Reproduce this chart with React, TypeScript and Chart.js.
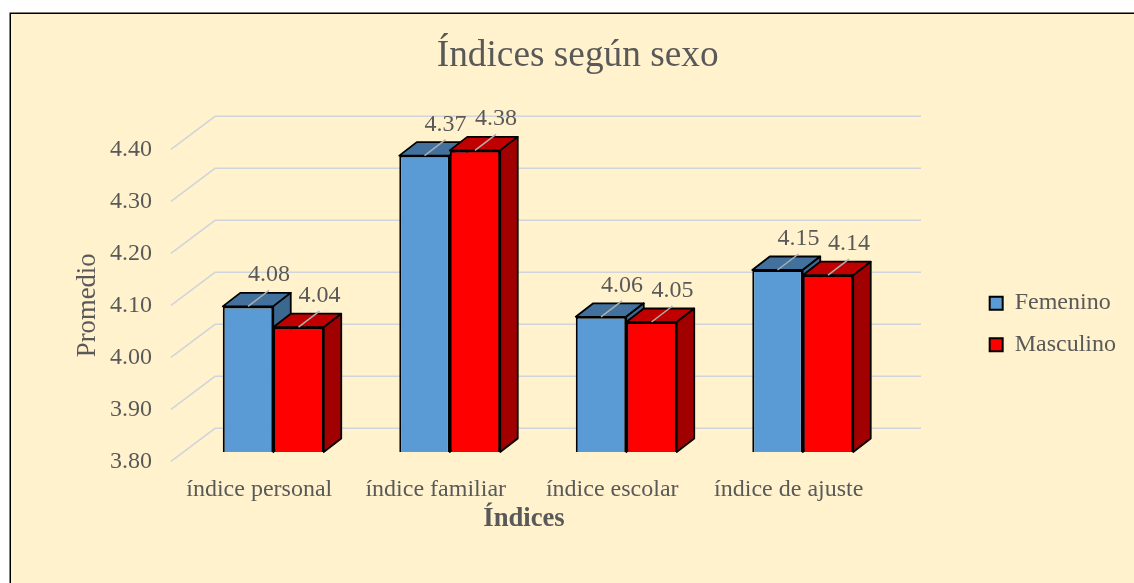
import React, { useEffect, useRef } from "react";
import { Chart, registerables } from "chart.js";

Chart.register(...registerables);

// ---- data ----
const categories = ["índice personal", "índice familiar", "índice escolar", "índice de ajuste"];
const seriesNames = ["Femenino", "Masculino"];
const femenino = [4.08, 4.37, 4.06, 4.15];
const masculino = [4.04, 4.38, 4.05, 4.14];
const yTickValues = [3.8, 3.9, 4.0, 4.1, 4.2, 4.3, 4.4];
const chartTitle = "Índices según sexo";
const xTitle = "Índices";
const yTitle = "Promedio";

// ---- styling / layout ----
const W = 1134;
const H = 648;
const FONT = "'Liberation Serif', 'Times New Roman', Times, serif";
const TEXT = "#595959";
const BG = "#FFF2CC";
const GRID = "#D0D5DD";
const PAD_L = 29.4;
const PAD_R = 8;
const Y_AXIS_W = 141.6;
const AREA_W = 706;
const X_AXIS_H = 186.7;
const WALL_DX = 44;
const WALL_DY = -33;
const SHIFT_DX = 14;
const SHIFT_DY = -9.3;
const DEPTH_DX = 17.5;
const DEPTH_DY = -13.5;
const LABEL_DX = 21;
const LABEL_BASE_DY = -25;
const LEADER_DY = -16;

const FRONT = ["#5B9BD5", "#FF0000"];
const TOPC = ["#41719C", "#C00000"];
const SIDEC = ["#3B6891", "#A00000"];

function drawFaces(ctx: CanvasRenderingContext2D, el: any, top: string, side: string) {
  const { x, y, base, width } = el;
  const l = x - width / 2;
  const r = x + width / 2;
  ctx.save();
  ctx.lineWidth = 1.8;
  ctx.strokeStyle = "#000";
  ctx.lineJoin = "round";
  ctx.beginPath();
  ctx.moveTo(l, y);
  ctx.lineTo(r, y);
  ctx.lineTo(r + DEPTH_DX, y + DEPTH_DY);
  ctx.lineTo(l + DEPTH_DX, y + DEPTH_DY);
  ctx.closePath();
  ctx.fillStyle = top;
  ctx.fill();
  ctx.stroke();
  ctx.beginPath();
  ctx.moveTo(r, y);
  ctx.lineTo(r + DEPTH_DX, y + DEPTH_DY);
  ctx.lineTo(r + DEPTH_DX, base + DEPTH_DY);
  ctx.lineTo(r, base);
  ctx.closePath();
  ctx.fillStyle = side;
  ctx.fill();
  ctx.stroke();
  ctx.restore();
}

const threeDPlugin = {
  id: "threeD",
  beforeDraw(chart: any) {
    const { ctx } = chart;
    ctx.save();
    ctx.fillStyle = "#FFFFFF";
    ctx.fillRect(0, 0, W, H);
    ctx.fillStyle = BG;
    ctx.fillRect(10, 13, W + 20, H + 20);
    ctx.strokeStyle = "#000";
    ctx.lineWidth = 1.5;
    ctx.strokeRect(10.25, 13.25, W + 20, H + 20);
    ctx.restore();
  },
  beforeDatasetsDraw(chart: any) {
    const { ctx, chartArea: a } = chart;
    const ys = chart.scales.y;
    ctx.save();
    ctx.strokeStyle = GRID;
    ctx.lineWidth = 1.5;
    for (const t of ys.ticks) {
      const py = ys.getPixelForValue(t.value);
      ctx.beginPath();
      ctx.moveTo(a.left, py);
      ctx.lineTo(a.left + WALL_DX, py + WALL_DY);
      ctx.lineTo(a.right + WALL_DX, py + WALL_DY);
      ctx.stroke();
    }
    ctx.restore();
    ctx.save();
    ctx.translate(SHIFT_DX, SHIFT_DY);
  },
  afterDatasetsDraw(chart: any) {
    const { ctx } = chart;
    const m0 = chart.getDatasetMeta(0);
    const m1 = chart.getDatasetMeta(1);
    for (let i = 0; i < categories.length; i++) {
      drawFaces(ctx, m0.data[i], TOPC[0], SIDEC[0]);
      m1.data[i].draw(ctx);
      drawFaces(ctx, m1.data[i], TOPC[1], SIDEC[1]);
    }
    ctx.save();
    ctx.font = `24px ${FONT}`;
    ctx.fillStyle = TEXT;
    ctx.textAlign = "center";
    ctx.textBaseline = "alphabetic";
    ctx.strokeStyle = "#AEAEAE";
    ctx.lineWidth = 1.5;
    [m0, m1].forEach((meta, di) => {
      const vals = chart.data.datasets[di].data as number[];
      meta.data.forEach((el: any, i: number) => {
        const cx = el.x;
        const ty = el.y;
        ctx.beginPath();
        ctx.moveTo(cx, ty);
        ctx.lineTo(cx + LABEL_DX, ty + LEADER_DY);
        ctx.stroke();
        ctx.fillText(vals[i].toFixed(2), cx + LABEL_DX, ty + LABEL_BASE_DY);
      });
    });
    ctx.restore();
    ctx.restore();
  },
};

export default function App() {
  const ref = useRef<HTMLCanvasElement>(null);
  useEffect(() => {
    if (!ref.current) return;
    const chart = new Chart(ref.current, {
      type: "bar",
      data: {
        labels: categories,
        datasets: [
          {
            label: seriesNames[0],
            data: femenino,
            backgroundColor: FRONT[0],
            borderColor: "#000",
            borderWidth: 2,
            base: yTickValues[0],
            clip: false as any,
          },
          {
            label: seriesNames[1],
            data: masculino,
            backgroundColor: FRONT[1],
            borderColor: "#000",
            borderWidth: 2,
            base: yTickValues[0],
            clip: false as any,
          },
        ],
      } as any,
      options: {
        responsive: false,
        animation: false,
        devicePixelRatio: 1,
        layout: { padding: { left: PAD_L, right: PAD_R, top: 0, bottom: 0 } },
        datasets: { bar: { barPercentage: 1, categoryPercentage: 0.572 } },
        plugins: {
          tooltip: { enabled: false },
          title: {
            display: true,
            text: chartTitle,
            color: TEXT,
            font: { family: FONT, size: 37.33, weight: "normal" },
            padding: { top: 33.6, bottom: 70.9 },
          },
          legend: {
            position: "right",
            labels: {
              color: TEXT,
              font: { family: FONT, size: 24 },
              boxWidth: 13,
              boxHeight: 13,
              padding: 17.6,
            },
          },
        },
        scales: {
          x: {
            grid: { display: false, drawTicks: false },
            border: { display: false },
            ticks: {
              color: TEXT,
              font: { family: FONT, size: 24 },
              padding: 14,
              maxRotation: 0,
              autoSkip: false,
            },
            title: {
              display: true,
              text: xTitle,
              color: TEXT,
              font: { family: FONT, size: 26.67, weight: "bold" },
              padding: { top: 0, bottom: 113.1 },
            },
            afterFit(s: any) {
              s.height = X_AXIS_H;
            },
          },
          y: {
            min: 3.8,
            max: 4.4,
            afterBuildTicks(s: any) {
              s.ticks = yTickValues.map((v) => ({ value: v }));
            },
            grid: { display: false, drawTicks: false },
            border: { display: false },
            ticks: {
              color: TEXT,
              font: { family: FONT, size: 24 },
              padding: 19,
              callback: (v: any) => Number(v).toFixed(2),
            },
            title: {
              display: true,
              text: yTitle,
              color: TEXT,
              font: { family: FONT, size: 26.67, weight: "normal" },
              padding: { top: 43, bottom: 0 },
            },
            afterFit(s: any) {
              s.width = Y_AXIS_W;
            },
          },
          spacer: {
            type: "linear",
            position: "right",
            display: true,
            grid: { display: false, drawTicks: false },
            border: { display: false },
            ticks: { display: false },
            afterFit(s: any) {
              const lw = s.chart.legend ? s.chart.legend.width : 0;
              s.width = Math.max(0, W - PAD_L - PAD_R - Y_AXIS_W - AREA_W - lw);
            },
          },
        },
      } as any,
      plugins: [threeDPlugin as any],
    });
    return () => chart.destroy();
  }, []);
  return (
    <div
      style={{
        position: "fixed",
        left: 0,
        top: 0,
        width: 1134,
        height: 583,
        overflow: "hidden",
        background: "#fff",
      }}
    >
      <canvas ref={ref} width={W} height={H} style={{ display: "block" }} />
    </div>
  );
}
